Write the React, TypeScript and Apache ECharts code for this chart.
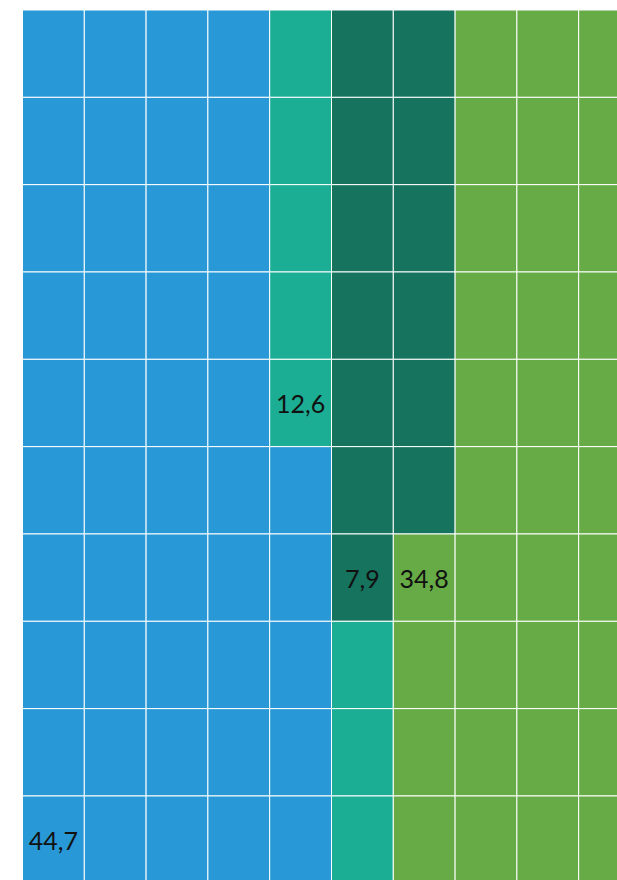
import React, { useEffect, useRef } from "react";
import * as echarts from "echarts";

const seriesNames = ["A", "B", "C", "D"];
const values = [44.7, 12.6, 7.9, 34.8];
const valueLabels = ["44,7", "12,6", "7,9", "34,8"];
const colors = ["#2898D6", "#1BAE94", "#16735E", "#66AB46"];
const columns = ["0", "1", "2", "3", "4", "5", "6", "7", "8", "9"];
const rows = ["0", "1", "2", "3", "4", "5", "6", "7", "8", "9"];
// cells per column, top to bottom: [seriesIndex, count] segments
const columnSegments: [number, number][][] = [
  [[0, 10]],
  [[0, 10]],
  [[0, 10]],
  [[0, 10]],
  [[1, 5], [0, 5]],
  [[2, 7], [1, 3]],
  [[2, 6], [3, 4]],
  [[3, 10]],
  [[3, 10]],
  [[3, 10]],
];
// grid cell (column, row) holding each series' value label
const labelCells: [number, number][] = [[0, 9], [4, 4], [5, 6], [6, 6]];

function buildData() {
  const data: any[] = [];
  columnSegments.forEach((segs, c) => {
    let r = 0;
    segs.forEach(([si, n]) => {
      for (let k = 0; k < n; k++) {
        const lab = labelCells.findIndex(([lc, lr]) => lc === c && lr === r);
        data.push([c, r, si, lab === si ? 1 : 0, values[si]]);
        r++;
      }
    });
  });
  return data;
}

export default function App() {
  const ref = useRef<HTMLDivElement>(null);
  useEffect(() => {
    if (!ref.current) return;
    const chart = echarts.init(ref.current, null, { renderer: "svg" });
    chart.setOption({
      animation: false,
      grid: { left: 22.5, top: 10, width: 618, height: 873.3 },
      xAxis: { type: "category", data: columns, show: false },
      yAxis: { type: "category", data: rows, inverse: true, show: false },
      tooltip: { show: false },
      series: [
        {
          type: "custom",
          name: seriesNames.join(","),
          data: buildData(),
          encode: { x: 0, y: 1 },
          renderItem: (params: any, api: any) => {
            const col = api.value(0);
            const row = api.value(1);
            const si = api.value(2);
            const first = api.value(3) === 1;
            const p = api.coord([col, row]);
            const s = api.size([1, 1]);
            const children: any[] = [
              {
                type: "rect",
                shape: { x: p[0] - s[0] / 2, y: p[1] - s[1] / 2, width: s[0], height: s[1] },
                style: { fill: colors[si], stroke: "#ffffff", lineWidth: 1 },
              },
            ];
            if (first) {
              children.push({
                type: "text",
                x: p[0],
                y: p[1],
                style: {
                  text: valueLabels[si],
                  align: "center",
                  verticalAlign: "middle",
                  fontFamily: "Lato",
                  fontSize: 25,
                  fill: "#111111",
                },
              });
            }
            return { type: "group", children };
          },
        },
      ],
    });
    return () => chart.dispose();
  }, []);
  return (
    <div style={{ position: "absolute", left: 0, top: 0, width: 617, height: 880, overflow: "hidden" }}>
      <div ref={ref} style={{ width: 660, height: 900 }} />
    </div>
  );
}
